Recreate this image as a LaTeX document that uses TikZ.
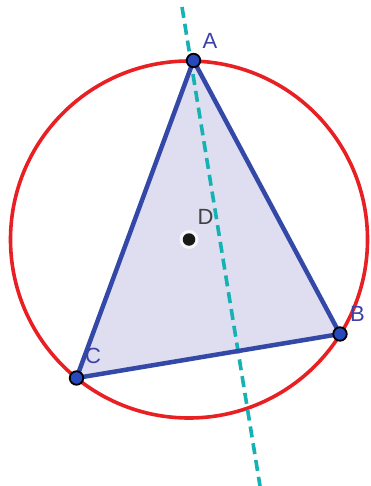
\documentclass[tikz,border=0pt]{standalone}
\usepackage{fontspec}
\setmainfont{Liberation Sans}
\begin{document}
\begin{tikzpicture}[x=1pt,y=-1pt,
  vertex/.style={circle,fill=ptblue,draw=black,line width=1.8pt,inner sep=0pt,minimum size=13.5pt},
  lbl/.style={text=lblblue,font=\fontsize{22}{22}\selectfont,inner sep=0pt}]
\definecolor{circred}{RGB}{232,32,36}
\definecolor{triblue}{RGB}{52,72,168}
\definecolor{trifill}{RGB}{222,222,240}
\definecolor{ptblue}{RGB}{40,72,190}
\definecolor{lblblue}{RGB}{60,66,165}
\definecolor{teal}{RGB}{20,178,178}
\useasboundingbox (0,0) rectangle (370,486);
\fill[white] (0,0) rectangle (370,486);
\coordinate (A) at (193.5,60.5);
\coordinate (B) at (340,334);
\coordinate (C) at (76.5,378);
\coordinate (D) at (189,239.5);
\coordinate (T) at (182,7);
\coordinate (U) at (260,486);
\fill[trifill] (A) -- (B) -- (C) -- cycle;
\draw[circred,line width=3.6pt] (D) circle (178.5);
\draw[teal,line width=3.6pt,dash pattern=on 11pt off 6pt] (T) -- (U);
\draw[triblue,line width=4.5pt,line join=round] (A) -- (B) -- (C) -- cycle;
\node[circle,fill=white,inner sep=0pt,minimum size=19pt,opacity=0.7] at (D) {};
\node[circle,fill=black!90,inner sep=0pt,minimum size=12.5pt] (d) at (D) {};
\node[vertex] (a) at (A) {};
\node[vertex] (b) at (B) {};
\node[vertex] (c) at (C) {};
\node[lbl] (la) at (210,40.5) {A};
\node[lbl] (lb) at (357.5,314) {B};
\node[lbl] (lc) at (93,356) {C};
\node[lbl,text=black!75] (ld) at (205.5,216.5) {D};
\end{tikzpicture}
\end{document}
